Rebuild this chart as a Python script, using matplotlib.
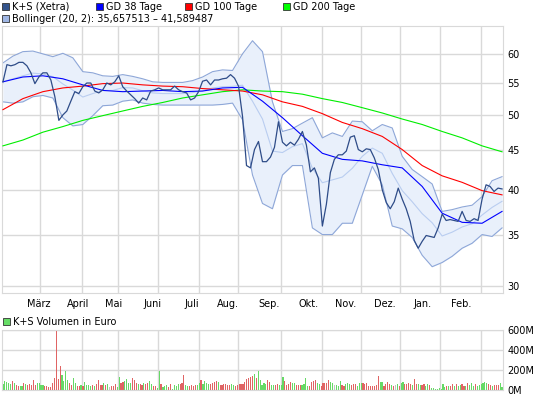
import numpy as np
import matplotlib
matplotlib.use('Agg')
import matplotlib.pyplot as plt
from matplotlib.patches import Rectangle

W, H = 545, 398

# K+S (Xetra) closing price, one sample every ~2 trading days
price = [55.2, 58.1, 57.9, 58.1, 58.5, 58.5, 57.9, 56.7, 54.9, 56.0,
         56.7, 56.7, 55.5, 52.8, 49.2, 50.0, 50.6, 52.1, 53.6, 53.3,
         54.4, 55.0, 55.0, 53.7, 53.4, 53.9, 55.0, 54.7, 55.2, 56.2,
         54.4, 53.7, 53.1, 52.5, 51.8, 52.6, 52.3, 53.7, 53.9, 54.2,
         53.9, 53.9, 53.9, 54.5, 53.9, 53.6, 53.4, 52.3, 52.6, 53.6,
         55.3, 55.5, 54.7, 55.5, 55.5, 55.7, 55.8, 56.4, 55.8, 54.5,
         49.8, 43.0, 42.7, 45.1, 46.2, 43.5, 43.5, 44.1, 45.4, 49.0,
         46.1, 45.6, 46.1, 45.7, 46.5, 47.6, 45.7, 42.2, 42.7, 41.4,
         35.9, 38.3, 42.1, 43.8, 44.4, 44.4, 44.9, 46.8, 47.0, 45.1,
         44.8, 45.2, 45.1, 44.0, 42.5, 40.0, 38.5, 37.8, 38.6, 40.2,
         38.9, 37.8, 36.4, 34.4, 33.6, 34.3, 34.9, 34.8, 34.7, 35.7,
         37.2, 36.5, 36.6, 36.5, 36.4, 37.5, 36.5, 36.4, 36.7, 36.5,
         38.9, 40.6, 40.4, 39.8, 40.2, 40.1]

# moving averages, one sample every ~10 trading days
gd38 = [55.2, 56.0, 56.2, 55.7, 54.7, 53.8, 53.6, 53.7, 53.8, 53.6, 53.7, 54.2, 54.3,
        52.1, 49.6, 47.0, 44.6, 43.8, 43.6, 43.1, 42.7, 40.4, 37.3, 36.3, 36.2, 37.5]
gd100 = [50.8, 52.5, 53.6, 54.2, 54.5, 54.9, 55.0, 54.7, 54.5, 54.4, 54.1, 53.9, 53.7,
         53.1, 52.0, 51.3, 50.2, 48.9, 48.0, 46.9, 45.1, 43.0, 41.7, 40.9, 39.9, 39.4]
gd200 = [45.6, 46.4, 47.5, 48.3, 49.2, 49.9, 50.6, 51.3, 51.9, 52.6, 53.1, 53.6, 53.9,
         53.7, 53.6, 53.2, 52.5, 51.9, 51.1, 50.3, 49.4, 48.6, 47.6, 46.7, 45.6, 44.8]

# Bollinger (20, 2) bands, one sample every ~5 trading days
boll_upper = [58.4, 59.6, 60.4, 60.5, 60.0, 59.5, 60.1, 59.3, 56.9, 56.7,
              56.2, 56.1, 56.4, 56.1, 55.7, 55.2, 55.1, 55.1, 55.1, 55.4,
              56.0, 56.9, 57.2, 57.1, 60.0, 62.4, 60.4, 52.0, 47.6, 48.0,
              48.8, 49.6, 46.7, 47.4, 46.9, 49.1, 49.0, 47.7, 48.6, 48.1,
              44.2, 42.5, 41.6, 40.7, 37.5, 37.7, 38.0, 38.2, 39.2, 41.1, 41.6]
boll_lower = [52.0, 51.8, 52.0, 52.8, 53.0, 52.6, 49.6, 48.4, 48.6, 49.9,
              51.4, 51.5, 52.1, 52.3, 51.8, 51.6, 51.5, 51.5, 51.5, 51.5,
              51.5, 51.5, 51.6, 51.8, 49.3, 41.8, 38.4, 37.8, 41.8, 43.0,
              43.0, 35.7, 35.0, 35.0, 36.2, 36.2, 39.4, 42.9, 40.6, 35.9,
              35.6, 34.7, 32.9, 31.8, 32.2, 32.8, 33.6, 34.1, 35.0, 34.8, 35.7]

# daily volume in million euro; g = up day, r = down day, x = unchanged
volume = [60, 90, 80, 70, 60, 90, 70, 50, 40, 33,
          40, 70, 60, 50, 60, 50, 100, 50, 70, 70,
          50, 50, 40, 40, 30, 30, 70, 120, 590, 110,
          240, 150, 90, 190, 100, 70, 50, 120, 70, 40,
          40, 50, 40, 80, 50, 50, 40, 50, 40, 60,
          100, 50, 50, 70, 50, 60, 30, 40, 40, 60,
          30, 130, 70, 80, 90, 110, 70, 70, 120, 100,
          70, 60, 60, 50, 70, 60, 70, 90, 60, 40,
          40, 20, 190, 60, 30, 40, 50, 30, 60, 10,
          50, 40, 60, 60, 70, 150,
          50, 40, 40, 50, 40, 50, 50, 70, 100, 60,
          90, 70, 60, 60, 70, 80, 90, 80, 50, 50,
          60, 60, 50, 50, 60, 50, 40, 50, 60, 60,
          60, 80, 110, 120, 130, 140, 160, 120, 190, 100,
          50, 70, 60, 100, 80, 50, 50, 50, 60, 50,
          50, 130, 90, 50, 60, 80, 70, 70, 50, 50,
          50, 50, 60, 120, 40, 40, 80, 90, 100, 70,
          60, 40, 70, 70, 70, 100, 80, 70, 50, 50,
          40, 90, 50, 40, 60, 70, 60, 50, 60, 60,
          40, 70, 70, 70, 60, 70,
          40, 40, 40, 40, 50, 140, 80, 80, 40, 60,
          80, 60, 50, 40, 50, 60, 40, 70, 80, 60,
          60, 70, 60, 50, 110, 60, 60, 50, 50, 60,
          40, 60, 50, 20, 20, 10, 10, 20, 10, 60,
          30, 40, 40, 40, 60, 40, 60, 40, 50, 60,
          40, 40, 70, 50, 70, 40, 60, 40, 50, 60,
          70, 80, 70, 60, 50, 40, 50, 50, 50, 70, 30]
vol_dir = ("gggggrgrrg" "grgrrrrrgg" "ggrrrrrrrr" "rggggrrggr" "rgrggggrgr"
           "rrrgrgxrrr" "ggrrggggrr" "rgrrgrrggr" "rggrgggrrg" "gggrrr"
           "ggrrrrggrg" "gggrrrrgrr" "rrrrggrrrr" "rrrrrrgrgg" "gggrrggrrg"
           "ggrrrrggrr" "rggggrrrrg" "grrrrrggxg" "ggrrgggrrr" "gggrrr"
           "rrrrrrggrr" "rrgrxgrggr" "rrrgrrggrr" "ggrggggggg" "grgrrgrggr"
           "rgrgggrggg" "gggrrgrrrg" "g")

months = ['März', 'April', 'Mai', 'Juni', 'Juli', 'Aug.', 'Sep.', 'Okt.',
          'Nov.', 'Dez.', 'Jan.', 'Feb.']
price_ticks = [30, 35, 40, 45, 50, 55, 60]
vol_ticks = [0, 200, 400, 600]

# layout (pixel positions of month gridlines and month labels)
grid_px = [40.3, 82.3, 118.3, 158.3, 199.3, 238.3, 280.7, 321.7, 360.7, 400, 440, 480.7]
label_px = [39, 78, 114, 152.5, 192, 228, 269, 309, 346, 385, 423, 461]

grid_col = '#d9d9d9'
fs = 7

n = len(volume)
px_day = lambda p: -0.5 + (p - 2) / 501 * n
price_x = np.linspace(0, n - 1, len(price))
ma_x = np.linspace(0, n - 1, len(gd38))
band_x = np.linspace(0, n - 1, len(boll_upper))
up = np.array(boll_upper)
lo = np.array(boll_lower)
mid = (up + lo) / 2

fig = plt.figure(figsize=(W / 100, H / 100), dpi=100)


def px_axes(l, t, r, b):
    return fig.add_axes([l / W, 1 - b / H, (r - l) / W, (b - t) / H])


def style(a):
    for s in a.spines.values():
        s.set_color(grid_col)
    a.yaxis.tick_right()
    a.tick_params(length=0, labelsize=fs, pad=3)
    a.set_xticks([px_day(p) for p in grid_px])
    a.set_xticklabels([])
    a.grid(True, color=grid_col, lw=1)
    a.set_axisbelow(True)
    a.set_xlim(-0.5, n - 0.5)


# main price chart
ax = px_axes(2, 26, 503, 293)
style(ax)
ax.set_yscale('log')
ax.set_ylim(29.4, 65.2)
ax.set_yticks(price_ticks)
ax.set_yticklabels([str(t) for t in price_ticks])
ax.yaxis.set_minor_locator(matplotlib.ticker.NullLocator())
ax.set_xticks([px_day(p) for p in label_px], minor=True)
ax.set_xticklabels(months, minor=True)
ax.tick_params(axis='x', which='minor', length=0, labelsize=fs, pad=4)

ax.fill_between(band_x, lo, up, color='#e9f0fb', lw=0, zorder=1)
ax.plot(band_x, up, color='#8ea7d8', lw=0.8, zorder=2)
ax.plot(band_x, lo, color='#8ea7d8', lw=0.8, zorder=2)
ax.plot(band_x, mid, color='#b9cdf0', lw=0.8, zorder=2)
ax.plot(ma_x, gd200, color='#00ee00', lw=0.8, zorder=3)
ax.plot(ma_x, gd100, color='#ff0000', lw=0.8, zorder=3)
ax.plot(ma_x, gd38, color='#0000ff', lw=0.8, zorder=3)
ax.plot(price_x, price, color='#2e4c88', lw=0.9, zorder=4)

# volume chart
axv = px_axes(2, 329.5, 503, 389.5)
style(axv)
axv.set_ylim(0, 600)
axv.set_yticks(vol_ticks)
axv.set_yticklabels([f'{t}M' for t in vol_ticks])
cmap = {'g': '#66d966', 'r': '#e06464', 'x': '#c4c4c4'}
axv.bar(np.arange(n), volume, width=0.6, color=[cmap[c] for c in vol_dir],
        lw=0, zorder=2, antialiased=False)

# legends
def legend_item(x, y, color, text):
    fig.patches.append(Rectangle((x / W, 1 - (y + 7) / H), 7 / W, 7 / H,
                                 transform=fig.transFigure, facecolor=color,
                                 edgecolor='#333333', lw=0.6))
    fig.text((x + 10) / W, 1 - (y + 3.8) / H, text, fontsize=fs, va='center')


legend_item(2, 3, '#34548c', 'K+S (Xetra)')
legend_item(96, 3, '#0000ff', 'GD 38 Tage')
legend_item(185, 3, '#ff0000', 'GD 100 Tage')
legend_item(283, 3, '#00ff00', 'GD 200 Tage')
legend_item(2, 15, '#9fb6e4', 'Bollinger (20, 2): 35,657513 \u2013 41,589487')
legend_item(3, 318, '#66dd66', 'K+S Volumen in Euro')

fig.savefig('out.png', dpi=100)
